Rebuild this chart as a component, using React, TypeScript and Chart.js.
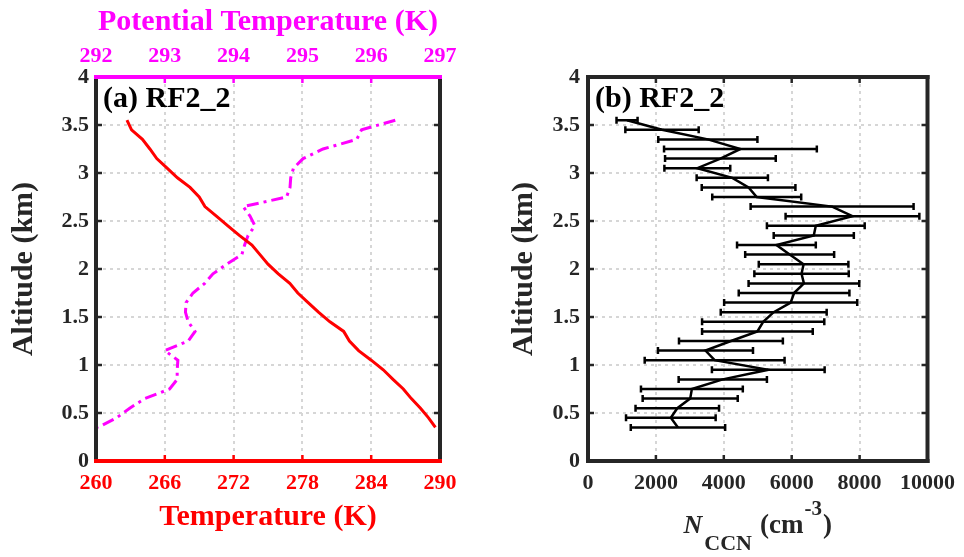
import React, { useEffect, useRef } from "react";
import { Chart, registerables } from "chart.js";

Chart.register(...registerables);

// ---------------- data ----------------
const altitudes = [
  3.55, 3.45, 3.35, 3.25, 3.15, 3.05, 2.95, 2.85, 2.75, 2.65, 2.55, 2.45, 2.35,
  2.25, 2.15, 2.05, 1.95, 1.85, 1.75, 1.65, 1.55, 1.45, 1.35, 1.25, 1.15, 1.05,
  0.95, 0.85, 0.75, 0.65, 0.55, 0.45, 0.35,
];

const temperature = [
  262.7, 263.1, 264.05, 264.7, 265.3, 266.2, 267.1, 268.2, 269.0, 269.5, 270.5,
  271.5, 272.5, 273.6, 274.3, 275.0, 275.9, 276.9, 277.6, 278.5, 279.4, 280.4,
  281.6, 282.1, 282.9, 284.0, 285.05, 285.9, 286.8, 287.5, 288.3, 289.0, 289.6,
];

const potentialTemperature = [
  296.35, 295.86, 295.79, 295.3, 295.01, 294.87, 294.83, 294.82, 294.77, 294.14,
  294.24, 294.31, 294.21, 294.16, 294.12, 293.9, 293.7, 293.58, 293.41, 293.31,
  293.3, 293.34, 293.44, 293.34, 293.0, 293.19, 293.18, 293.18, 293.07, 292.71,
  292.49, 292.3, 292.03,
];

const nccnMean = [
  1150, 2180, 3530, 4490, 3900, 3220, 4250, 4730, 4970, 7190, 7790, 6710, 6650,
  5550, 5940, 6350, 6290, 6360, 6070, 5970, 5470, 5160, 4990, 4210, 3460, 3730,
  5310, 3970, 3060, 3010, 2630, 2440, 2650,
];

const nccnStd = [
  310, 1080, 1460, 2250, 1630, 970, 1050, 1380, 1310, 2400, 1970, 1440, 1180,
  1160, 1310, 1320, 1390, 1630, 1630, 1960, 1560, 1800, 1630, 1530, 1400, 2060,
  1660, 1300, 1500, 1400, 1230, 1320, 1390,
];

const altitudeTicks = [0, 0.5, 1, 1.5, 2, 2.5, 3, 3.5, 4];
const temperatureTicks = [260, 266, 272, 278, 284, 290];
const potentialTicks = [292, 293, 294, 295, 296, 297];
const nccnTicks = [0, 2000, 4000, 6000, 8000, 10000];

const panelLabels = ["(a) RF2_2", "(b) RF2_2"];

// ---------------- styles ----------------
const SERIF = "'Liberation Serif', 'Times New Roman', serif";
const DARK = "#262626";
const RED = "#ff0000";
const MAGENTA = "#ff00ff";
const GRID = "#d6d6d6";

const tickFont = { family: SERIF, size: 22, weight: "bold" as const };
const titleFont = { family: SERIF, size: 30, weight: "bold" as const };

const setTicks = (arr: number[]) => (s: any) => {
  s.ticks = arr.map((v) => ({ value: v }));
};

type FrameCfg = {
  left: string;
  right: string;
  top: string;
  bottom: string;
  topScale: string;
  label: string;
};

function makeFramePlugin(cfg: FrameCfg) {
  return {
    id: "frame",
    afterDraw(chart: any) {
      const { ctx } = chart;
      const { left, right, top, bottom } = chart.chartArea;
      const ys = chart.scales.y;
      const xb = chart.scales.x;
      const xt = chart.scales[cfg.topScale];
      const seg = (x1: number, y1: number, x2: number, y2: number, c: string) => {
        ctx.strokeStyle = c;
        ctx.beginPath();
        ctx.moveTo(x1, y1);
        ctx.lineTo(x2, y2);
        ctx.stroke();
      };
      ctx.save();
      ctx.setLineDash([]);
      const T = 6;
      ctx.lineWidth = 2.5;
      ys.ticks.forEach((t: any) => {
        const y = ys.getPixelForValue(t.value);
        seg(left, y, left + T, y, cfg.left);
        seg(right, y, right - T, y, cfg.right);
      });
      xb.ticks.forEach((t: any) => {
        const x = xb.getPixelForValue(t.value);
        seg(x, bottom, x, bottom - T, cfg.bottom);
      });
      xt.ticks.forEach((t: any) => {
        const x = xt.getPixelForValue(t.value);
        seg(x, top, x, top + T, cfg.top);
      });
      ctx.lineWidth = 4;
      ctx.lineCap = "square";
      seg(left, top, left, bottom, cfg.left);
      seg(right, top, right, bottom, cfg.right);
      seg(left, bottom, right, bottom, cfg.bottom);
      seg(left, top, right, top, cfg.top);
      ctx.fillStyle = "#000";
      ctx.font = `bold 30px ${SERIF}`;
      ctx.textAlign = "left";
      ctx.textBaseline = "alphabetic";
      ctx.fillText(cfg.label, left + 7, top + 30);
      ctx.restore();
    },
  };
}

const errorBarPlugin = {
  id: "errorBars",
  afterDatasetsDraw(chart: any) {
    const { ctx } = chart;
    const xs = chart.scales.x;
    const ys = chart.scales.y;
    ctx.save();
    ctx.strokeStyle = "#000";
    ctx.lineWidth = 2.5;
    const cap = 3.5;
    altitudes.forEach((a, i) => {
      const y = ys.getPixelForValue(a);
      const x1 = xs.getPixelForValue(nccnMean[i] - nccnStd[i]);
      const x2 = xs.getPixelForValue(nccnMean[i] + nccnStd[i]);
      ctx.beginPath();
      ctx.moveTo(x1, y);
      ctx.lineTo(x2, y);
      ctx.moveTo(x1, y - cap);
      ctx.lineTo(x1, y + cap);
      ctx.moveTo(x2, y - cap);
      ctx.lineTo(x2, y + cap);
      ctx.stroke();
    });
    ctx.restore();
  },
};

const nccnTitlePlugin = {
  id: "nccnTitle",
  afterDraw(chart: any) {
    const { ctx } = chart;
    const { left, right, bottom } = chart.chartArea;
    const base = bottom + 72;
    const parts = [
      { t: "N", f: `italic bold 26px ${SERIF}`, dy: 0, gap: 2 },
      { t: "CCN", f: `bold 22px ${SERIF}`, dy: 17, gap: 8 },
      { t: "(cm", f: `bold 27px ${SERIF}`, dy: 0, gap: 1 },
      { t: "-3", f: `bold 21px ${SERIF}`, dy: -18, gap: 1 },
      { t: ")", f: `bold 27px ${SERIF}`, dy: 0, gap: 0 },
    ];
    ctx.save();
    ctx.fillStyle = DARK;
    ctx.textAlign = "left";
    ctx.textBaseline = "alphabetic";
    let total = 0;
    const widths = parts.map((p) => {
      ctx.font = p.f;
      const w = ctx.measureText(p.t).width;
      total += w + p.gap;
      return w;
    });
    let x = (left + right) / 2 - total / 2;
    parts.forEach((p, i) => {
      ctx.font = p.f;
      ctx.fillText(p.t, x, base + p.dy);
      x += widths[i] + p.gap;
    });
    ctx.restore();
  },
};

export default function App() {
  const leftRef = useRef<HTMLCanvasElement>(null);
  const rightRef = useRef<HTMLCanvasElement>(null);

  useEffect(() => {
    if (!leftRef.current || !rightRef.current) return;

    const gridCommon = { color: GRID, lineWidth: 2, drawTicks: false };
    const borderCommon = { display: false, dash: [3, 4] };

    const left = new Chart(leftRef.current, {
      type: "scatter",
      data: {
        datasets: [
          {
            label: "Temperature",
            data: altitudes.map((a, i) => ({ x: temperature[i], y: a })),
            xAxisID: "x",
            yAxisID: "y",
            showLine: true,
            borderColor: RED,
            backgroundColor: RED,
            borderWidth: 3,
            pointRadius: 0,
          },
          {
            label: "Potential Temperature",
            data: altitudes.map((a, i) => ({ x: potentialTemperature[i], y: a })),
            xAxisID: "x2",
            yAxisID: "y",
            showLine: true,
            borderColor: MAGENTA,
            backgroundColor: MAGENTA,
            borderWidth: 3,
            borderDash: [12, 5, 3, 5],
            pointRadius: 0,
          },
        ],
      },
      options: {
        responsive: false,
        animation: false,
        devicePixelRatio: 1,
        layout: { padding: { left: 0, right: 42, top: 0, bottom: 0 } },
        plugins: { legend: { display: false }, tooltip: { enabled: false } },
        scales: {
          x: {
            type: "linear",
            position: "bottom",
            min: temperatureTicks[0],
            max: temperatureTicks[temperatureTicks.length - 1],
            afterBuildTicks: setTicks(temperatureTicks),
            afterFit: (s: any) => {
              s.height = 96;
            },
            grid: gridCommon,
            border: borderCommon,
            ticks: {
              color: RED,
              font: tickFont,
              padding: 9,
              autoSkip: false,
              maxRotation: 0,
              callback: (v: any) => String(v),
            },
            title: {
              display: true,
              text: "Temperature (K)",
              color: RED,
              font: titleFont,
              padding: { top: 0, bottom: 22 },
            },
          },
          x2: {
            type: "linear",
            position: "top",
            min: potentialTicks[0],
            max: potentialTicks[potentialTicks.length - 1],
            afterBuildTicks: setTicks(potentialTicks),
            afterFit: (s: any) => {
              s.height = 77;
            },
            grid: { drawOnChartArea: false, drawTicks: false },
            border: { display: false },
            ticks: {
              color: MAGENTA,
              font: tickFont,
              padding: 7.5,
              autoSkip: false,
              maxRotation: 0,
              callback: (v: any) => String(v),
            },
            title: {
              display: true,
              text: "Potential Temperature (K)",
              color: MAGENTA,
              font: titleFont,
              padding: { top: 4, bottom: 0 },
            },
          },
          y: {
            type: "linear",
            position: "left",
            min: altitudeTicks[0],
            max: altitudeTicks[altitudeTicks.length - 1],
            afterBuildTicks: setTicks(altitudeTicks),
            afterFit: (s: any) => {
              s.width = 96;
            },
            grid: gridCommon,
            border: borderCommon,
            ticks: {
              color: DARK,
              font: tickFont,
              padding: 7,
              autoSkip: false,
              callback: (v: any) => String(v),
            },
            title: {
              display: true,
              text: "Altitude (km)",
              color: DARK,
              font: titleFont,
              padding: { top: 6, bottom: 0 },
            },
          },
        },
      },
      plugins: [
        makeFramePlugin({
          left: DARK,
          right: DARK,
          top: MAGENTA,
          bottom: RED,
          topScale: "x2",
          label: panelLabels[0],
        }),
      ],
    } as any);

    const right = new Chart(rightRef.current, {
      type: "scatter",
      data: {
        datasets: [
          {
            label: "NCCN",
            data: altitudes.map((a, i) => ({ x: nccnMean[i], y: a })),
            showLine: true,
            borderColor: "#000",
            backgroundColor: "#000",
            borderWidth: 2.5,
            pointRadius: 0,
          },
        ],
      },
      options: {
        responsive: false,
        animation: false,
        devicePixelRatio: 1,
        layout: { padding: { left: 0, right: 32, top: 77, bottom: 0 } },
        plugins: { legend: { display: false }, tooltip: { enabled: false } },
        scales: {
          x: {
            type: "linear",
            position: "bottom",
            min: nccnTicks[0],
            max: nccnTicks[nccnTicks.length - 1],
            afterBuildTicks: setTicks(nccnTicks),
            afterFit: (s: any) => {
              s.height = 96;
            },
            grid: gridCommon,
            border: borderCommon,
            ticks: {
              color: DARK,
              font: tickFont,
              padding: 9,
              autoSkip: false,
              maxRotation: 0,
              callback: (v: any) => String(v),
            },
            title: { display: false },
          },
          y: {
            type: "linear",
            position: "left",
            min: altitudeTicks[0],
            max: altitudeTicks[altitudeTicks.length - 1],
            afterBuildTicks: setTicks(altitudeTicks),
            afterFit: (s: any) => {
              s.width = 106;
            },
            grid: gridCommon,
            border: borderCommon,
            ticks: {
              color: DARK,
              font: tickFont,
              padding: 8,
              autoSkip: false,
              callback: (v: any) => String(v),
            },
            title: {
              display: true,
              text: "Altitude (km)",
              color: DARK,
              font: titleFont,
              padding: { top: 24, bottom: 0 },
            },
          },
        },
      },
      plugins: [
        errorBarPlugin,
        nccnTitlePlugin,
        makeFramePlugin({
          left: DARK,
          right: DARK,
          top: DARK,
          bottom: DARK,
          topScale: "x",
          label: panelLabels[1],
        }),
      ],
    } as any);

    return () => {
      left.destroy();
      right.destroy();
    };
  }, []);

  return (
    <div
      style={{
        position: "fixed",
        left: 0,
        top: 0,
        width: 964,
        height: 557,
        background: "#fff",
      }}
    >
      <canvas
        ref={leftRef}
        width={482}
        height={557}
        style={{ position: "absolute", left: 0, top: 0 }}
      />
      <canvas
        ref={rightRef}
        width={482}
        height={557}
        style={{ position: "absolute", left: 482, top: 0 }}
      />
    </div>
  );
}
